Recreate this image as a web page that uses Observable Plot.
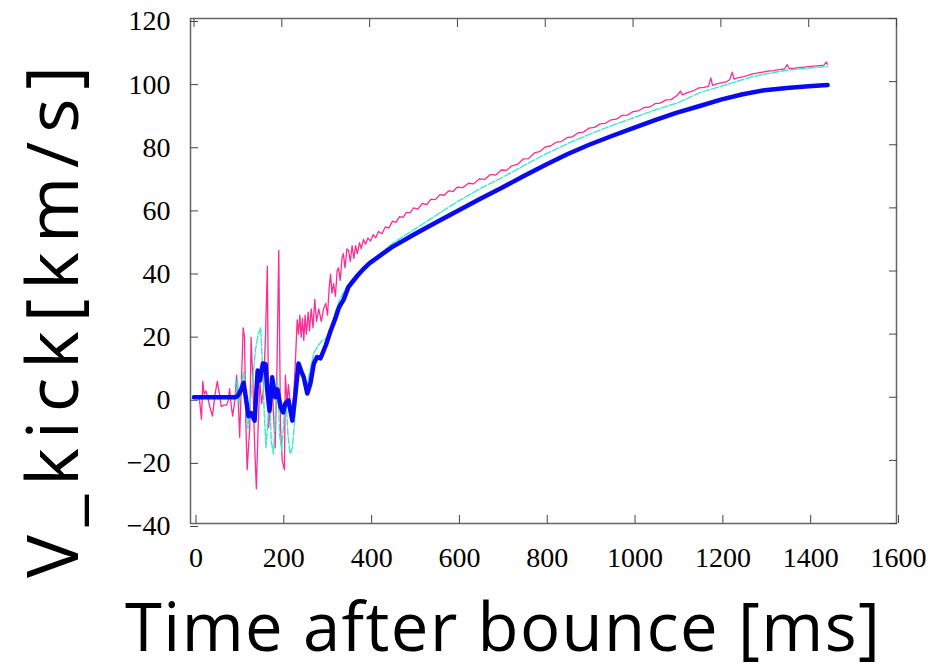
<!DOCTYPE html>
<html>
<head>
<meta charset="utf-8">
<script src="https://cdn.jsdelivr.net/npm/d3@7"></script>
<script src="https://cdn.jsdelivr.net/npm/@observablehq/plot@0.6"></script>
<style>
  html, body { margin: 0; padding: 0; background: #fff; }
  #chart { width: 930px; height: 670px; }
</style>
</head>
<body>
<div id="chart"></div>
<script>
// ---- data (time after bounce [ms], V_kick [km/s]) ----
const xTicks = [0, 200, 400, 600, 800, 1000, 1200, 1400, 1600];
const yTicks = [-40, -20, 0, 20, 40, 60, 80, 100, 120];

const blueSeries = [
  [0,0],[95,0],[100,0.5],[106,2],[113,4.6],[118,0],[124,-6],[130,-5],[138,-7.4],[145,8.5],
  [150,5.3],[157,10.7],[163,10.5],[167,2],[172,-4.3],[178,6.3],[185,0],[190,2.5],[197,-3],
  [203,-4.8],[208,-2],[215,-1],[224,-7.4],[231,1],[238,10.7],[245,8],[250,6.3],[258,1.2],
  [265,4.3],[273,10.7],[280,12.7],[288,12.3],[300,16.4],[311,21],[322,25],[330,28.4],
  [341,31],[352,35],[372,38.5],[385,40.5],[400,42.5],[450,47.5],[500,51.5],[550,55.3],
  [600,59],[650,62.7],[700,66.3],[750,70],[800,73.6],[850,77],
  [900,80],[950,82.7],[1000,85.3],[1050,87.8],[1100,90.2],[1150,92.2],[1200,94.3],
  [1250,96],[1300,97.3],[1350,98],[1400,98.5],[1443,98.9]
];

const cyanSeries = [
  [0,0],[95,0],[99,6],[103,-2],[108,4],[113,8],[118,-4],[123,-10],[128,-2],[134,6],[140,15],
  [146,20],[152,22],[156,10],[160,-5],[164,-16],[168,-8],[172,2],[176,-14],[181,-18],[186,-4],
  [190,6],[195,-12],[200,-17],[205,-6],[210,-2],[214,-12],[219,-18],[224,-16],[229,-8],
  [234,2],[238,8],[243,9],[250,6],[258,4],[265,9],[273,14],[281,16],[292,18],[304,19],
  [312,22],[322,27],[332,31],[342,33.5],[352,36],[365,38],[380,39.5],[400,42.5],[425,45.5],
  [450,48.5],[477,51],[500,53],[550,57.5],[600,62],[650,66],[700,69.5],[750,73.3],[800,77],
  [850,80.3],[900,83.3],[950,86],[1000,88.5],[1050,91],[1100,93.2],[1154,96.6],[1200,98.5],
  [1268,101.4],[1300,102.4],[1350,103.6],[1400,104.3],[1443,104.8]
];

const magentaSeries = [
  [0,0],[12,0],[17,-7],[20,5],[23,1],[27,2],[31,0],[36,-3],[42,-6],[48,1],[53,5],[58,1],
  [62,-3],[68,-2.5],[74,-2.5],[78,-1],[81,2.7],[85,-3],[88,-6],[93,-1],[97,7],[101,-2],
  [104,-12.7],[108,5],[112,22],[115,19],[118,-8],[121,-23],[124,-16],[127,-10],[130,19],
  [134,5],[138,-15],[142,-29],[146,-10],[150,5],[154,-2],[158,2],[163,20],[167,41.5],
  [170,-9.6],[174,-3],[178,4],[182,-8],[185,-16],[189,10],[193,46.5],[197,-9.6],[201,-20],
  [206,-23],[208,7],[212,-2],[215,4],[220,-3],[224,-7],[228,3],[231,11.6],[235,24.5],
  [238,20],[241,26],[244,19],[247,25],[250,18],[253,26],[256,20],[260,27],[263,21],[267,28],
  [271,22],[275,31],[279,24],[284,28],[290,24],[295,28],[300,29.7],[304,26],[308,35],
  [311,39],[314,33],[318,36],[322,32],[326,40],[329,41],[333,37],[337,44],[340,45.5],
  [344,41],[348,47],[352,46.5],[356,43],[360,48],[364,44],[368,48],[372,45.5],[377,49],
  [381,47],[386,50],[391,48.5],[396,50.5],[402,49.5],[408,51.5],[414,50.5],[420,52.5],
  [428,51.8],[436,54],[444,53.6],[452,55.8],[460,55.4],[468,57.2],[476,57],[484,58.6],
  [492,58.4],[500,60],[510,59.6],[520,61.4],[530,61],[540,62.8],[550,62.6],[560,64.2],
  [570,64],[580,65.4],[590,65.2],[600,66.6],[612,66.4],[625,67.8],[637,67.6],[650,69.2],
  [662,69],[675,70.6],[687,70.4],[700,72],[712,71.9],[725,73.4],[737,73.8],[750,75.5],
  [762,75.6],[775,77.4],[787,77.8],[800,79.3],[812,79.6],[825,80.8],[837,81],[850,82.3],
  [862,82.5],[875,83.8],[887,84],[900,85.3],[912,85.5],[925,86.6],[937,86.8],[950,87.9],
  [962,88.1],[975,89.3],[987,89.4],[1000,90.5],[1012,90.7],[1025,91.8],[1037,91.9],
  [1050,93],[1062,93.2],[1075,94.2],[1087,94.3],[1100,95.6],[1108,97],[1112,95.8],
  [1125,96.6],[1137,97.1],[1150,98],[1162,98.2],[1172,98.6],[1177,101.2],[1181,98.8],
  [1190,99.3],[1200,99.6],[1212,99.9],[1220,100.6],[1226,103],[1230,100.8],[1240,101.3],
  [1252,101.6],[1262,102],[1270,102.4],[1282,102.7],[1295,103],[1307,103.3],[1320,103.5],
  [1332,103.8],[1345,104],[1351,105.4],[1356,104.1],[1370,104.3],[1382,104.5],[1395,104.7],
  [1410,104.9],[1425,105.1],[1435,105.2],[1440,106.2],[1443,105.5]
];

const xTitle = "Time after bounce [ms]";
const yTitle = "V_kick[km/s]";

// ---- chart ----
const tickFont = "'Liberation Serif', 'Times New Roman', serif";
const titleFont = "'Open Sans', 'Noto Sans', sans-serif";

const chart = Plot.plot({
  width: 930,
  height: 670,
  marginLeft: 190,
  marginRight: 34,
  marginTop: 18,
  marginBottom: 147,
  style: { background: "#fff", color: "#000" },
  x: { domain: [-8, 1600], label: null },
  y: { domain: [-40, 120], label: null },
  marks: [
    Plot.frame({ stroke: "#666", strokeWidth: 1.5 }),
    Plot.line(magentaSeries, { x: d => d[0], y: d => d[1], stroke: "#ff2a93", strokeWidth: 1.3 }),
    Plot.line(cyanSeries, { x: d => d[0], y: d => d[1], stroke: "#3ee8cc", strokeWidth: 1.4, strokeDasharray: "7,2" }),
    Plot.line(blueSeries, { x: d => d[0], y: d => d[1], stroke: "#0a0af0", strokeWidth: 4.5, strokeLinejoin: "round" }),
    Plot.axisY(yTicks, { anchor: "left", tickSize: -8, tickPadding: 28, tickFormat: "d", stroke: "#444", fontSize: 28, fontFamily: tickFont, dy: 3, label: null }),
    Plot.axisY(yTicks, { anchor: "right", tickSize: -8, stroke: "#444", fill: "none", label: null }),
    Plot.axisX(xTicks, { anchor: "bottom", tickSize: -8, tickPadding: 32, tickFormat: "d", stroke: "#444", fontSize: 28, fontFamily: tickFont, dx: 2, label: null }),
    Plot.axisX(xTicks, { anchor: "top", tickSize: -8, stroke: "#444", fill: "none", label: null }),
    Plot.text([xTitle], { className: "xtitle", frameAnchor: "bottom", text: d => d, textAnchor: "middle", lineAnchor: "middle", dx: -41, dy: 106, fontSize: 67, fontFamily: titleFont, fill: "#000" }),
    Plot.text([yTitle], { className: "ytitle", frameAnchor: "left", text: d => d, textAnchor: "middle", lineAnchor: "middle", rotate: -90, dx: -136, dy: 51, fontSize: 72, fontFamily: titleFont, fill: "#000" })
  ]
});
d3.select(chart).selectAll(".xtitle text").attr("textLength", 755).attr("lengthAdjust", "spacing");
d3.select(chart).selectAll(".ytitle text").attr("textLength", 512).attr("lengthAdjust", "spacing");
document.getElementById("chart").appendChild(chart);
</script>
</body>
</html>
